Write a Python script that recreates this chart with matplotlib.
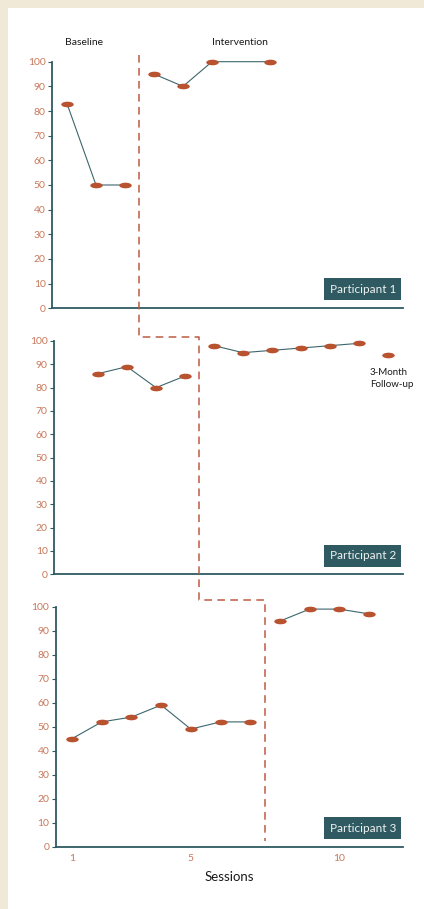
import matplotlib.pyplot as plt
import matplotlib.path as mpath
from matplotlib.lines import Line2D
from matplotlib.patches import Rectangle
import numpy as np

plt.rcParams['font.family'] = ['Lato', 'DejaVu Sans']

# sessions and scores (%) for each participant
p1_base_sessions = [1, 2, 3]
p1_base_scores = [83, 50, 50]
p1_int_sessions = [4, 5, 6, 7, 8]
p1_int_scores = [95, 90, 100, 100, 100]
p1_unmarked = [7]

p2_base_sessions = [2, 3, 4, 5]
p2_base_scores = [86, 89, 80, 85]
p2_int_sessions = [6, 7, 8, 9, 10, 11]
p2_int_scores = [98, 95, 96, 97, 98, 99]
p2_follow_sessions = [12]
p2_follow_scores = [94]

p3_base_sessions = [1, 2, 3, 4, 5, 6, 7]
p3_base_scores = [45, 52, 54, 59, 49, 52, 52]
p3_int_sessions = [8, 9, 10, 11]
p3_int_scores = [94, 99, 99, 97]

phase_changes = [3.5, 5.5, 7.5]
participants = ["Participant 1", "Participant 2", "Participant 3"]
x_ticks = [1, 5, 10]
y_ticks = list(range(0, 101, 10))

# colours
bg_cream = "#f1e9d8"
teal = "#2f5a61"
line_c = "#3d666c"
dot_c = "#b8522f"
tick_c = "#c9785b"
dash_c = "#bd5a42"

W, H = 424, 909
fig = plt.figure(figsize=(W / 100, H / 100), dpi=100, facecolor=bg_cream)
fig.patches.append(Rectangle((8 / W, 0), 1, 1 - 8 / H, transform=fig.transFigure,
                             facecolor="white", edgecolor="none", zorder=-5))


def px_rect(left, right, top, bottom):
    return [left / W, 1 - bottom / H, (right - left) / W, (bottom - top) / H]


ax1 = fig.add_axes(px_rect(52, 403, 61.7, 308.3))
ax2 = fig.add_axes(px_rect(54, 403, 341, 574.3))
ax3 = fig.add_axes(px_rect(55.5, 403, 606.7, 846.7))
axes = [ax1, ax2, ax3]
xlims = [(0.483, 12.586), (0.483, 12.517), (0.444, 12.145)]

# flattened ellipse used as the data marker
circle = mpath.Path.unit_circle()
ellipse = mpath.Path(circle.vertices * np.array([1.0, 0.45]), circle.codes)


def draw_phase(ax, sessions, scores, skip=()):
    ax.plot(sessions, scores, color=line_c, lw=0.8, zorder=2, clip_on=False)
    xs = [s for s in sessions if s not in skip]
    ys = [v for s, v in zip(sessions, scores) if s not in skip]
    ax.plot(xs, ys, ls="none", marker=ellipse, ms=9, mfc=dot_c, mec="none",
            zorder=3, clip_on=False)


draw_phase(ax1, p1_base_sessions, p1_base_scores)
draw_phase(ax1, p1_int_sessions, p1_int_scores, skip=p1_unmarked)
draw_phase(ax2, p2_base_sessions, p2_base_scores)
draw_phase(ax2, p2_int_sessions, p2_int_scores)
draw_phase(ax2, p2_follow_sessions, p2_follow_scores)
draw_phase(ax3, p3_base_sessions, p3_base_scores)
draw_phase(ax3, p3_int_sessions, p3_int_scores)

for ax, lim, name in zip(axes, xlims, participants):
    ax.set_xlim(*lim)
    ax.set_ylim(0, 100)
    ax.set_facecolor("none")
    for side in ["top", "right"]:
        ax.spines[side].set_visible(False)
    for side in ["left", "bottom"]:
        ax.spines[side].set_color(teal)
        ax.spines[side].set_linewidth(1.3)
    ax.set_yticks(y_ticks)
    ax.tick_params(axis="y", colors=teal, length=3, width=0.8, pad=1.5,
                   labelcolor=tick_c, labelsize=7.5)
    ax.tick_params(axis="x", length=0, pad=5, labelcolor=tick_c, labelsize=7.5)
    ax.set_xticks([])
    ax.text(0.98, 0.055, name, transform=ax.transAxes, ha="right", va="bottom",
            fontsize=8.5, color="#eef2f2",
            bbox=dict(boxstyle="square,pad=0.45", facecolor=teal, edgecolor="none"))

ax3.set_xticks(x_ticks)

ax1.text(0.091, 1.076, "Baseline", transform=ax1.transAxes, ha="center",
         va="center", fontsize=7.5, color="#1a1a1a")
ax1.text(0.536, 1.076, "Intervention", transform=ax1.transAxes, ha="center",
         va="center", fontsize=7.5, color="#1a1a1a")
ax2.text(0.905, 0.839, "3-Month\nFollow-up", transform=ax2.transAxes, ha="left",
         va="center", fontsize=7, color="#1a1a1a", linespacing=1.35)
fig.text(229 / W, 1 - 877 / H, "Sessions", ha="center", va="center",
         fontsize=9.5, color="#1a1a1a")


# stepped phase-change line running through all three panels
def to_fig(ax, x, y):
    return fig.transFigure.inverted().transform(ax.transData.transform((x, y)))


pa = to_fig(ax1, phase_changes[0], 102.7)
pb = to_fig(ax2, phase_changes[0], 101.7)
pc = to_fig(ax2, phase_changes[1], 101.7)
pd = to_fig(ax3, phase_changes[1], 102.8)
pe = to_fig(ax3, phase_changes[2], 102.8)
pf = to_fig(ax3, phase_changes[2], 2.5)
step_x = [pa[0], pa[0], pc[0], pc[0], pe[0], pe[0]]
step_y = [pa[1], pb[1], pc[1], pd[1], pe[1], pf[1]]
fig.add_artist(Line2D(step_x, step_y, transform=fig.transFigure, color=dash_c,
                      lw=1.1, ls=(0, (5, 3.5)), zorder=1))

fig.savefig("out.png", dpi=100, facecolor=bg_cream)
